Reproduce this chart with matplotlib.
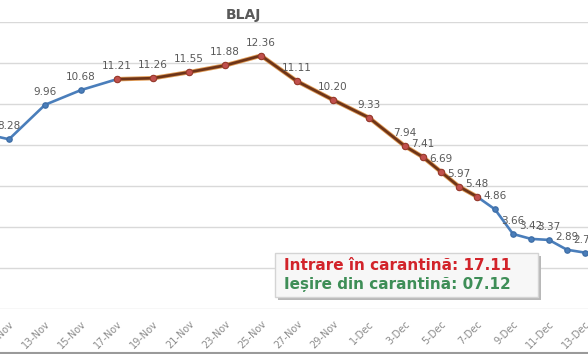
import matplotlib
matplotlib.use("Agg")
import matplotlib.pyplot as plt
import matplotlib.dates as mdates
from matplotlib.patches import Rectangle
import pandas as pd

# ---- data ----
dates = ["2020-11-09", "2020-11-11", "2020-11-13", "2020-11-15", "2020-11-17",
         "2020-11-19", "2020-11-21", "2020-11-23", "2020-11-25", "2020-11-27",
         "2020-11-29", "2020-12-01", "2020-12-03", "2020-12-04", "2020-12-05",
         "2020-12-06", "2020-12-07", "2020-12-08", "2020-12-09", "2020-12-10",
         "2020-12-11", "2020-12-12", "2020-12-13"]
values = [8.67, 8.28, 9.96, 10.68, 11.21, 11.26, 11.55, 11.88, 12.36, 11.11,
          10.20, 9.33, 7.94, 7.41, 6.69, 5.97, 5.48, 4.86, 3.66, 3.42, 3.37,
          2.89, 2.75]
label_values = ["8.67", "8.28", "9.96", "10.68", "11.21", "11.26", "11.55", "11.88",
                "12.36", "11.11", "10.20", "9.33", "7.94", "7.41", "6.69", "5.97",
                "5.48", "4.86", "3.66", "3.42", "3.37", "2.89", "2.75"]
quarantine_start = "2020-11-17"
quarantine_end = "2020-12-07"
tick_dates = ["2020-11-11", "2020-11-13", "2020-11-15", "2020-11-17", "2020-11-19",
              "2020-11-21", "2020-11-23", "2020-11-25", "2020-11-27", "2020-11-29",
              "2020-12-01", "2020-12-03", "2020-12-05", "2020-12-07", "2020-12-09",
              "2020-12-11", "2020-12-13"]
tick_labels = ["11-Nov", "13-Nov", "15-Nov", "17-Nov", "19-Nov", "21-Nov", "23-Nov",
               "25-Nov", "27-Nov", "29-Nov", "1-Dec", "3-Dec", "5-Dec", "7-Dec",
               "9-Dec", "11-Dec", "13-Dec"]
title = "BLAJ"
note_in = "Intrare în carantină: 17.11"
note_out = "Ieșire din carantină: 07.12"

W, H = 588, 354
fig = plt.figure(figsize=(W / 100, H / 100), dpi=100)
fig.patch.set_facecolor("white")

def fx(px):
    return px / W

def fy(py):
    return 1 - py / H

# plot area: y=0 at px 309, y=14 at px 22
ax = fig.add_axes([0, fy(309), 1, fy(22) - fy(309)])
ax.set_facecolor("none")

d = pd.to_datetime(dates)
x = mdates.date2num(d)
px_per_day = 18.0
x0 = mdates.date2num(pd.Timestamp("2020-11-11")) - 9 / px_per_day
ax.set_xlim(x0, x0 + W / px_per_day)
ax.set_ylim(0, 14)

for s in ax.spines.values():
    s.set_visible(False)
ax.set_yticks(range(0, 15, 2))
ax.set_yticklabels([])
ax.tick_params(axis="y", length=0)
ax.grid(axis="y", color="#d9d9d9", lw=1.0)
ax.set_axisbelow(True)

ax.set_xticks(mdates.date2num(pd.to_datetime(tick_dates)))
ax.set_xticklabels(tick_labels, rotation=45, ha="right", va="top",
                   rotation_mode="anchor", fontsize=7, color="#8c8c8c")
ax.tick_params(axis="x", length=0, pad=7)

# blue full series
ax.plot(x, values, color="#4A7EBB", lw=1.9, marker="o", ms=3.8,
        mfc="#4A7EBB", mec="#3F6FA8", zorder=3, clip_on=False)

# quarantine segment
qs = mdates.date2num(pd.Timestamp(quarantine_start))
qe = mdates.date2num(pd.Timestamp(quarantine_end))
qx = [xi for xi in x if qs <= xi <= qe]
qv = [v for xi, v in zip(x, values) if qs <= xi <= qe]
ax.plot(qx, qv, color="#D9822B", lw=3.2, zorder=4, alpha=0.8)
ax.plot(qx, qv, color="#6E3418", lw=1.9, zorder=5)
ax.plot(qx, qv, ls="none", marker="o", ms=4.6, mfc="#C0504D",
        mec="#9A3A2A", mew=0.8, zorder=6)

for xi, v, lab in zip(x, values, label_values):
    ax.annotate(lab, (xi, v), xytext=(0, 13), textcoords="offset pixels",
                ha="center", va="center", fontsize=7.5, color="#595959",
                zorder=7, annotation_clip=False)

fig.text(fx(243), fy(15), title, ha="center", va="center", fontsize=10,
         fontweight="bold", color="#595959")

# annotation box with shadow
bx0, by0, bx1, by1 = 275, 253, 538, 297
shadow = Rectangle((fx(bx0 + 3), fy(by1 + 3)), fx(bx1 - bx0), fy(by0) - fy(by1),
                   transform=fig.transFigure, facecolor="#b8b8b8", edgecolor="none",
                   zorder=8)
box = Rectangle((fx(bx0), fy(by1)), fx(bx1 - bx0), fy(by0) - fy(by1),
                transform=fig.transFigure, facecolor="#f7f7f7", edgecolor="#d4d4d4",
                lw=1.0, zorder=9)
fig.add_artist(shadow)
fig.add_artist(box)
fig.text(fx(284), fy(266), note_in, ha="left", va="center", fontsize=11,
         fontweight="bold", color="#D2232A", zorder=10)
fig.text(fx(284), fy(285), note_out, ha="left", va="center", fontsize=11,
         fontweight="bold", color="#3E8E57", zorder=10)

# chart border at bottom
fig.add_artist(plt.Line2D([0, 1], [fy(352.5), fy(352.5)], transform=fig.transFigure,
                          color="#9a9a9a", lw=1.5))

fig.savefig("out.png", dpi=100)
